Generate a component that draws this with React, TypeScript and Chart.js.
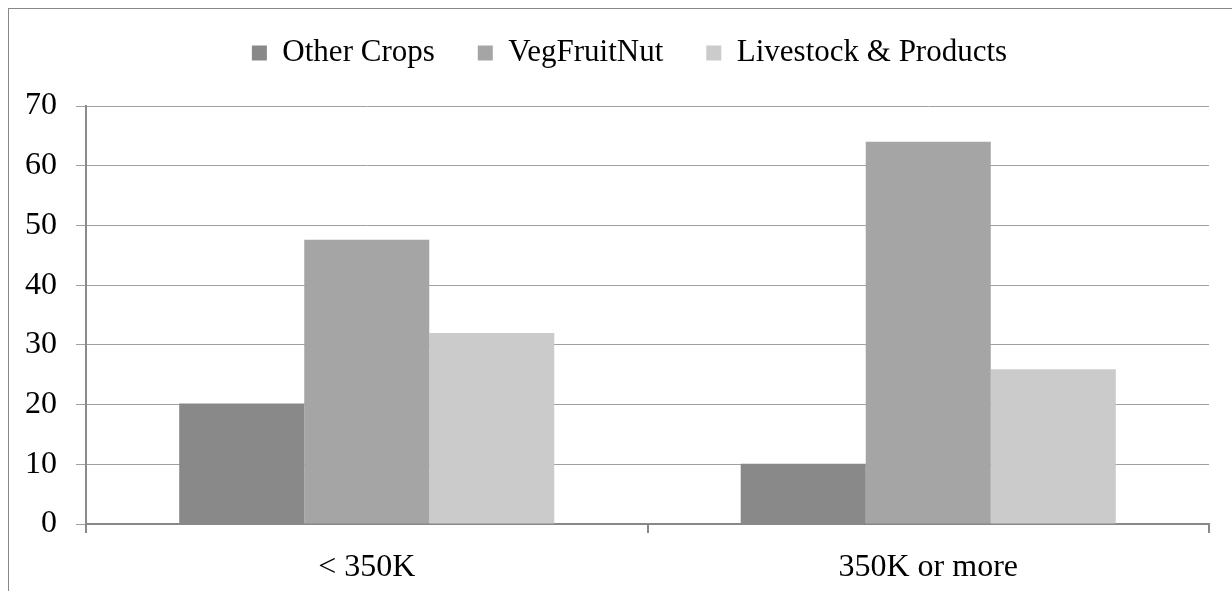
import React, { useEffect, useRef } from "react";
import { Chart, registerables } from "chart.js";

Chart.register(...registerables);

const categories = ["< 350K", "350K or more"];
const seriesNames = ["Other Crops", "VegFruitNut", "Livestock & Products"];
const otherCrops = [20.2, 10.1];
const vegFruitNut = [47.6, 64.0];
const livestock = [32.0, 25.9];
const seriesColors = ["#898989", "#a5a5a5", "#cbcbcb"];
const yMin = 0;
const yMax = 70;
const yStep = 10;

const FONT = '"Liberation Serif", "Times New Roman", serif';
const AXIS_FONT_SIZE = 32;
const LEGEND_FONT_SIZE = 31;

const legendTweak = {
  id: "legendTweak",
  beforeInit(chart: any) {
    const legend = chart.legend;
    if (!legend) return;
    const orig = legend.fit;
    legend.fit = function () {
      orig.call(this);
      this.height += 27.5;
    };
  },
  afterLayout(chart: any) {
    const legend = chart.legend;
    if (legend) {
      legend.left += 41;
    }
  },
};

export default function App() {
  const ref = useRef<HTMLCanvasElement | null>(null);

  useEffect(() => {
    if (!ref.current) return;
    const values = [otherCrops, vegFruitNut, livestock];
    const chart = new Chart(ref.current, {
      type: "bar",
      data: {
        labels: categories,
        datasets: seriesNames.map((name, i) => ({
          label: name,
          data: values[i],
          backgroundColor: seriesColors[i],
          borderWidth: 0,
          barPercentage: 1,
          categoryPercentage: 0.668,
        })),
      },
      options: {
        animation: false,
        responsive: true,
        maintainAspectRatio: false,
        layout: { padding: { top: -14.5, left: 0, right: 23, bottom: 0 } },
        plugins: {
          legend: {
            display: true,
            position: "top",
            labels: {
              color: "#000",
              font: { family: FONT, size: LEGEND_FONT_SIZE },
              boxWidth: 15,
              boxHeight: 15,
              padding: 43,
            },
          },
          tooltip: { enabled: false },
        },
        scales: {
          x: {
            offset: true,
            grid: {
              offset: true,
              drawOnChartArea: false,
              drawTicks: true,
              tickLength: 9,
              color: "#888888",
              lineWidth: 2,
            },
            border: { display: true, color: "#888888", width: 2 },
            ticks: {
              color: "#000",
              font: { family: FONT, size: AXIS_FONT_SIZE },
              padding: 15,
              maxRotation: 0,
            },
            afterFit(scale: any) {
              scale.height = 67;
            },
          },
          y: {
            min: yMin,
            max: yMax,
            grid: {
              color: "#a0a0a0",
              lineWidth: 1,
              drawTicks: true,
              tickLength: 10,
            },
            border: { display: true, color: "#8a8a8a", width: 2 },
            ticks: {
              stepSize: yStep,
              color: "#000",
              font: { family: FONT, size: AXIS_FONT_SIZE },
              padding: 19,
            },
            afterFit(scale: any) {
              scale.width = 77;
            },
          },
        },
      },
      plugins: [legendTweak],
    });
    return () => chart.destroy();
  }, []);

  return (
    <div
      style={{
        position: "fixed",
        left: 8,
        top: 8,
        right: 0,
        bottom: 0,
        borderLeft: "1px solid #888888",
        borderTop: "1px solid #888888",
        background: "#fff",
      }}
    >
      <div style={{ position: "relative", width: 1223, height: 582 }}>
        <canvas ref={ref} />
      </div>
    </div>
  );
}
